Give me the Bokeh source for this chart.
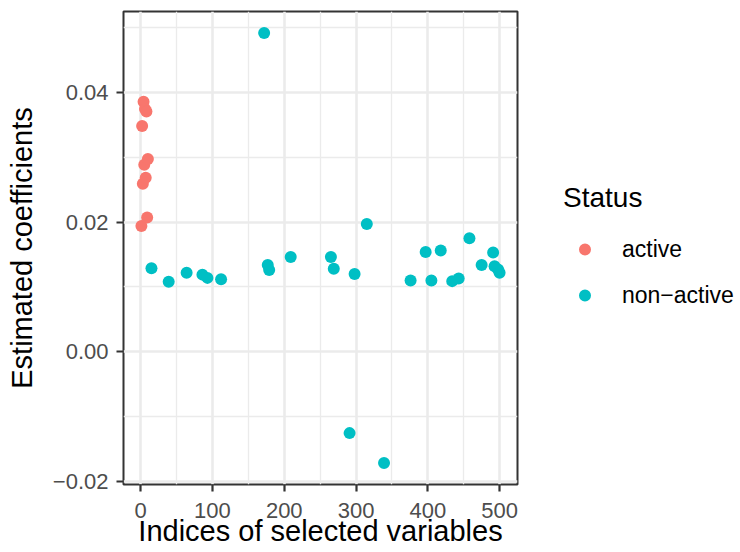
from bokeh.plotting import figure
from bokeh.layouts import row
from bokeh.models import (Range1d, FixedTicker, CustomJSTickFormatter, Legend,
                          LegendItem)
from bokeh.embed import file_html
from bokeh.resources import INLINE

# ---- data ----
active_x = [1, 2, 3, 4, 5, 6, 7, 8, 9, 10]
active_y = [0.0194, 0.0348, 0.0259, 0.0385, 0.0288, 0.0374, 0.0268, 0.0370, 0.0207, 0.0297]

nonactive_x = [15, 39, 64, 86, 93, 112, 172, 177, 179, 209, 265, 269, 291, 298,
               315, 339, 376, 397, 405, 418, 434, 443, 458, 475, 491, 493, 498, 500]
nonactive_y = [0.0129, 0.0108, 0.0122, 0.0119, 0.0114, 0.0112, 0.0491, 0.0134,
               0.0126, 0.0146, 0.0146, 0.0128, -0.0125, 0.0120, 0.0197, -0.0171,
               0.0110, 0.0154, 0.0110, 0.0156, 0.0109, 0.0113, 0.0175, 0.0134,
               0.0153, 0.0132, 0.0127, 0.0122]

x_ticks = [0, 100, 200, 300, 400, 500]
x_minor = [50, 150, 250, 350, 450]
y_ticks = [-0.02, 0.0, 0.02, 0.04]
y_minor = [-0.01, 0.01, 0.03, 0.05]

legend_title = "Status"
labels = ["active", "non\u2212active"]
colors = ["#F8766D", "#00BFC4"]

# ggplot-style 5% expansion
all_x = active_x + nonactive_x
all_y = active_y + nonactive_y
xlo, xhi = min(all_x), max(all_x)
ylo, yhi = min(all_y), max(all_y)
xp = (xhi - xlo) * 0.05
yp = (yhi - ylo) * 0.05

H = 552
p = figure(width=522, height=H, output_backend="svg", toolbar_location=None,
           x_range=Range1d(xlo - xp, xhi + xp), y_range=Range1d(ylo - yp, yhi + yp),
           min_border_left=123, min_border_right=5, min_border_top=11,
           min_border_bottom=68)

p.background_fill_color = "white"
p.border_fill_color = "white"
p.outline_line_color = "#333333"
p.outline_line_width = 2

xt = FixedTicker(ticks=x_ticks, minor_ticks=x_minor)
yt = FixedTicker(ticks=y_ticks, minor_ticks=y_minor)
p.xaxis.ticker = xt
p.yaxis.ticker = yt
p.xgrid.ticker = xt
p.ygrid.ticker = yt
p.yaxis.formatter = CustomJSTickFormatter(
    code="return (tick < -1e-9 ? '\u2212' : '') + Math.abs(tick).toFixed(2);")

for g in (p.xgrid, p.ygrid):
    g.grid_line_color = "#EBEBEB"
    g.grid_line_width = 2.6
    g.minor_grid_line_color = "#EBEBEB"
    g.minor_grid_line_width = 1.3

for ax in (p.xaxis, p.yaxis):
    ax.axis_line_color = None
    ax.major_tick_line_color = "#333333"
    ax.major_tick_line_width = 2.2
    ax.major_tick_out = 7
    ax.major_tick_in = 0
    ax.minor_tick_line_color = None
    ax.major_label_text_font = "Liberation Sans"
    ax.major_label_text_font_size = "22px"
    ax.major_label_text_color = "#4D4D4D"
    ax.axis_label_text_font = "Liberation Sans"
    ax.axis_label_text_font_size = "29px"
    ax.axis_label_text_font_style = "normal"
    ax.axis_label_text_color = "black"

p.xaxis.axis_label = "Indices of selected variables"
p.yaxis.axis_label = "Estimated coefficients"
p.xaxis.major_label_standoff = 11
p.yaxis.major_label_standoff = 8
p.xaxis.axis_label_standoff = -6
p.yaxis.axis_label_standoff = 12

p.scatter(active_x, active_y, size=12, color=colors[0], line_color=None)
p.scatter(nonactive_x, nonactive_y, size=12, color=colors[1], line_color=None)

# legend panel (ggplot draws the guide outside the plotting panel);
# its key renderers sit outside the visible range of this panel
pl = figure(width=740 - 522, height=H, output_backend="svg", toolbar_location=None,
            x_range=Range1d(-1e6, -1e6 + 1), y_range=Range1d(-1e6, -1e6 + 1),
            min_border=0)
pl.axis.visible = False
pl.grid.visible = False
pl.outline_line_color = None
pl.background_fill_color = "white"
pl.border_fill_color = "white"
k1 = pl.scatter(x=active_x[:1], y=active_y[:1], color=colors[0], line_color=None)
k2 = pl.scatter(x=nonactive_x[:1], y=nonactive_y[:1], color=colors[1], line_color=None)

legend = Legend(items=[LegendItem(label=labels[0], renderers=[k1]),
                       LegendItem(label=labels[1], renderers=[k2])],
                location=(41, 174), title=legend_title,
                title_text_font="Liberation Sans", title_text_font_size="28px",
                title_text_font_style="normal", title_text_color="black",
                title_standoff=20,
                label_text_font="Liberation Sans", label_text_font_size="23px",
                label_text_color="black",
                glyph_width=43, glyph_height=30, label_standoff=16,
                spacing=16, padding=0, margin=0,
                border_line_color=None, background_fill_alpha=0)
pl.add_layout(legend)

layout = row(p, pl, spacing=0)
open("out.html", "w").write(file_html(layout, INLINE))
